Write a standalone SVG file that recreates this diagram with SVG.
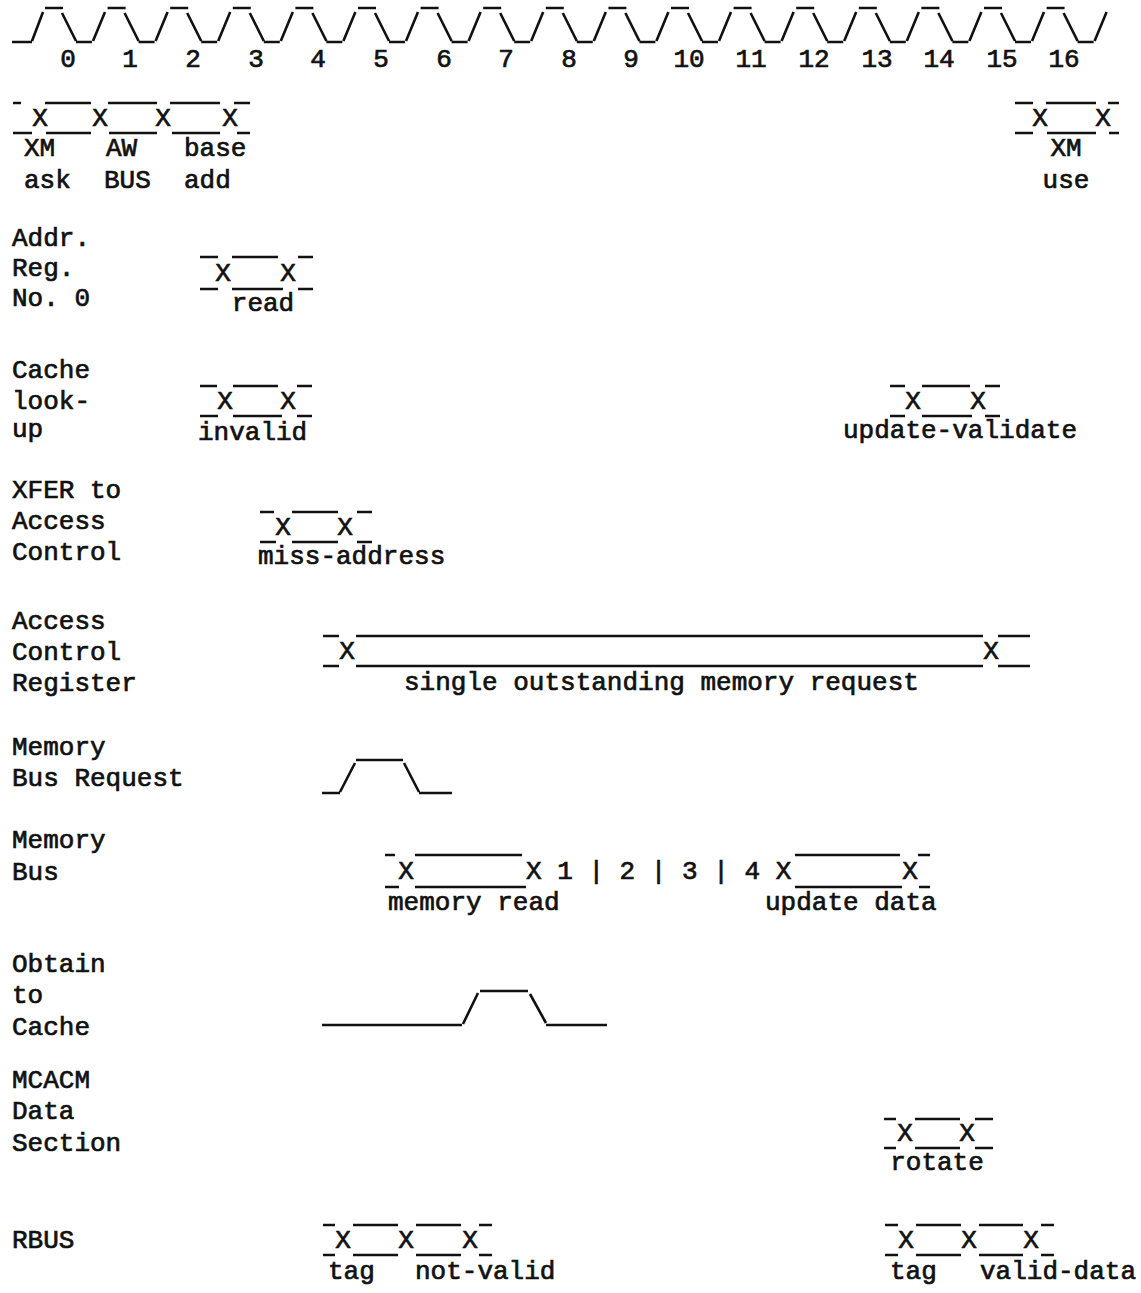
<svg xmlns="http://www.w3.org/2000/svg" width="1141" height="1293" viewBox="0 0 1141 1293">
<style>
text{font-family:"Liberation Mono","DejaVu Sans Mono",monospace;font-size:26px;fill:#111;stroke:#111;stroke-width:0.7}
.m{text-anchor:middle}
.w{fill:none;stroke:#111;stroke-width:2.6;stroke-linecap:butt}
</style>
<defs>
<path id="cyc" class="w" d="M0,8H18 M17,13L31,41 M31,42H47 M48,41L60,12"/>
</defs>
<rect width="1141" height="1293" fill="#fff"/>
<g id="clock">
<path class="w" d="M12,42H32 M32,41L43,12"/>
<use href="#cyc" x="45"/><use href="#cyc" x="107.6"/><use href="#cyc" x="170.2"/><use href="#cyc" x="232.8"/>
<use href="#cyc" x="295.4"/><use href="#cyc" x="358"/><use href="#cyc" x="420.6"/><use href="#cyc" x="483.2"/>
<use href="#cyc" x="545.8"/><use href="#cyc" x="608.4"/><use href="#cyc" x="671"/><use href="#cyc" x="733.6"/>
<use href="#cyc" x="796.2"/><use href="#cyc" x="858.8"/><use href="#cyc" x="921.4"/><use href="#cyc" x="984"/>
<use href="#cyc" x="1046.6"/>
<text class="m" x="68" y="67">0</text><text class="m" x="130" y="67">1</text><text class="m" x="193" y="67">2</text>
<text class="m" x="256" y="67">3</text><text class="m" x="318" y="67">4</text><text class="m" x="381" y="67">5</text>
<text class="m" x="444" y="67">6</text><text class="m" x="506" y="67">7</text><text class="m" x="569" y="67">8</text>
<text class="m" x="631" y="67">9</text><text class="m" x="689" y="67">10</text><text class="m" x="751" y="67">11</text>
<text class="m" x="814" y="67">12</text><text class="m" x="877" y="67">13</text><text class="m" x="939" y="67">14</text>
<text class="m" x="1002" y="67">15</text><text class="m" x="1064" y="67">16</text>
</g>

<g id="row-xm">
<path class="w" d="M13,103H21 M45,103H91 M108,103H157 M170,103H220 M234,103H250 M13,133H32 M46,133H91 M109,133H157 M172,133H220 M237,133H250"/>
<text class="m" x="40" y="126">X</text><text class="m" x="100" y="126">X</text><text class="m" x="163" y="126">X</text><text class="m" x="230" y="126">X</text>
<text x="24" y="156">XM</text><text x="24" y="188">ask</text>
<text x="106" y="156">AW</text><text x="104" y="188">BUS</text>
<text x="184" y="156">base</text><text x="184" y="188">add</text>
</g>
<g id="row-xm-use">
<path class="w" d="M1015,103H1033 M1046,103H1096 M1108,103H1119 M1015,133H1033 M1047,133H1096 M1109,133H1119"/>
<text class="m" x="1040" y="126">X</text><text class="m" x="1103" y="126">X</text>
<text class="m" x="1066" y="156">XM</text><text class="m" x="1066" y="188">use</text>
</g>

<g id="addr-reg">
<text x="12" y="246">Addr.</text><text x="12" y="276">Reg.</text><text x="12" y="306">No. 0</text>
<path class="w" d="M200,257H218 M232,257H278 M298,257H313 M200,289H218 M232,289H283 M298,289H313"/>
<text class="m" x="223" y="281">X</text><text class="m" x="288" y="281">X</text>
<text class="m" x="263" y="311">read</text>
</g>

<g id="cache-lookup">
<text x="12" y="378">Cache</text><text x="12" y="409">look-</text><text x="12" y="437">up</text>
<path class="w" d="M200,386H217 M233,386H278 M297,386H312 M200,416H218 M233,416H282 M297,416H312"/>
<text class="m" x="225" y="409">X</text><text class="m" x="288" y="409">X</text>
<text x="198" y="440">invalid</text>
<path class="w" d="M890,386H905 M922,386H970 M985,386H1000 M890,416H905 M922,416H972 M985,416H1000"/>
<text class="m" x="913" y="409">X</text><text class="m" x="978" y="409">X</text>
<text x="843" y="438">update-validate</text>
</g>

<g id="xfer">
<text x="12" y="498">XFER to</text><text x="12" y="529">Access</text><text x="12" y="560">Control</text>
<path class="w" d="M260,512H274 M292,512H338 M357,512H372 M260,542H276 M292,542H338 M357,542H372"/>
<text class="m" x="283" y="535">X</text><text class="m" x="345" y="535">X</text>
<text x="258" y="564">miss-address</text>
</g>

<g id="acr">
<text x="12" y="629">Access</text><text x="12" y="660">Control</text><text x="12" y="691">Register</text>
<path class="w" d="M323,636H339 M356,636H983 M998,636H1030 M323,666H339 M356,666H983 M998,666H1030"/>
<text class="m" x="347" y="659">X</text><text class="m" x="991" y="659">X</text>
<text x="404" y="690">single outstanding memory request</text>
</g>

<g id="mbr">
<text x="12" y="755">Memory</text><text x="12" y="786">Bus Request</text>
<path class="w" d="M322,793H340 M340,792L355,763 M356,760H403 M404,763L419,792 M419,793H452"/>
</g>

<g id="mem-bus">
<text x="12" y="848">Memory</text><text x="12" y="880">Bus</text>
<path class="w" d="M385,855H395 M415,855H522 M795,855H900 M918,855H930 M385,887H399 M415,887H526 M795,887H902 M919,887H930"/>
<text class="m" x="406" y="879">X</text>
<text x="526" y="879">X 1 | 2 | 3 | 4 X</text>
<text class="m" x="910" y="879">X</text>
<text x="388" y="910">memory read</text>
<text x="765" y="910">update data</text>
</g>

<g id="obtain">
<text x="12" y="972">Obtain</text><text x="12" y="1003">to</text><text x="12" y="1035">Cache</text>
<path class="w" d="M322,1025H462 M463,1024L478,993 M480,991H528 M530,994L546,1023 M546,1025H607"/>
</g>

<g id="mcacm">
<text x="12" y="1088">MCACM</text><text x="12" y="1119">Data</text><text x="12" y="1151">Section</text>
<path class="w" d="M884,1119H896 M915,1119H960 M975,1119H993 M884,1148H896 M915,1148H960 M975,1148H993"/>
<text class="m" x="905" y="1141">X</text><text class="m" x="967" y="1141">X</text>
<text class="m" x="937" y="1170">rotate</text>
</g>

<g id="rbus">
<text x="12" y="1248">RBUS</text>
<path class="w" d="M323,1225H335 M353,1225H398 M416,1225H461 M479,1225H492 M323,1255H335 M353,1255H398 M416,1255H461 M479,1255H492"/>
<text class="m" x="343" y="1248">X</text><text class="m" x="406" y="1248">X</text><text class="m" x="470" y="1248">X</text>
<text x="328" y="1279">tag</text><text x="415" y="1279">not-valid</text>
<path class="w" d="M885,1225H898 M916,1225H961 M979,1225H1023 M1041,1225H1054 M885,1255H898 M916,1255H961 M979,1255H1023 M1041,1255H1054"/>
<text class="m" x="906" y="1248">X</text><text class="m" x="969" y="1248">X</text><text class="m" x="1031" y="1248">X</text>
<text x="890" y="1279">tag</text><text x="980" y="1279">valid-data</text>
</g>
</svg>
